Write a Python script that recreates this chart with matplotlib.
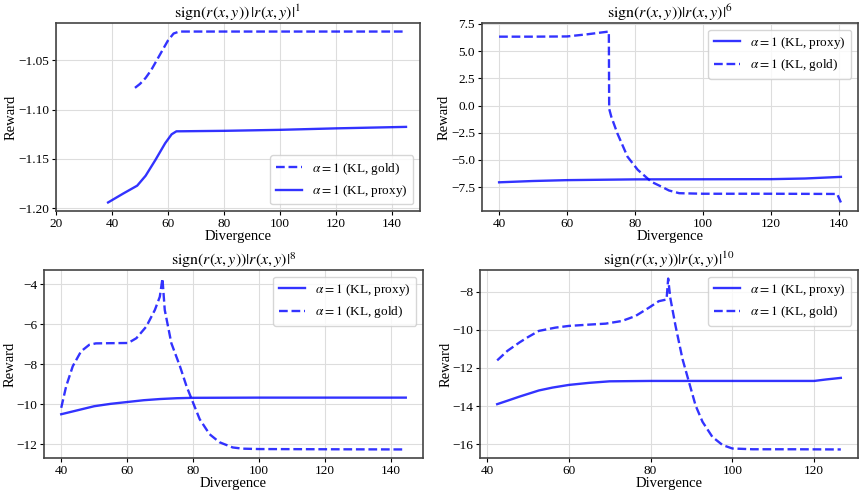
import numpy as np
import matplotlib
matplotlib.use('Agg')
import matplotlib.pyplot as plt
import matplotlib.ticker as ticker

plt.rcParams['font.family'] = ['Liberation Serif', 'DejaVu Serif']
plt.rcParams['mathtext.fontset'] = 'stix'

# --- data ---
# panel 1: |r|^1
p1_gold_x = [48.2, 50, 52, 54, 56, 58, 60, 62, 64, 80, 100, 120, 145]
p1_gold_y = [-1.078, -1.074, -1.068, -1.060, -1.050, -1.040, -1.030, -1.023, -1.021,
             -1.021, -1.021, -1.021, -1.021]
p1_proxy_x = [38.6, 44, 49, 52, 55.5, 59, 61.3, 63, 80, 100, 120, 145]
p1_proxy_y = [-1.194, -1.185, -1.177, -1.167, -1.151, -1.134, -1.125, -1.122,
              -1.1215, -1.1205, -1.119, -1.1175]

# panel 2: |r|^6
p2_gold_x = [40, 50, 60, 66, 72.3, 72.4, 73, 74.8, 77.8, 80.8, 84.8, 87.8, 90, 93,
             100, 120, 139.5, 140.6]
p2_gold_y = [6.33, 6.33, 6.35, 6.55, 6.8, -0.3, -1.0, -2.55, -4.7, -5.9, -7.0, -7.45,
             -7.8, -8.05, -8.1, -8.1, -8.12, -8.9]
p2_proxy_x = [40, 50, 60, 80, 100, 120, 130, 140.6]
p2_proxy_y = [-7.05, -6.93, -6.85, -6.78, -6.77, -6.76, -6.7, -6.55]

# panel 3: |r|^8
p3_gold_x = [40, 41.5, 43.5, 46, 48.5, 50.5, 55, 60.3, 62.8, 65.8, 68.4, 69.9, 70.7,
             71.4, 73.4, 76, 78, 80, 82, 85, 88, 92, 95, 100, 120, 144.5]
p3_gold_y = [-10.18, -9.1, -8.1, -7.36, -7.03, -6.96, -6.95, -6.94, -6.7, -6.12, -5.29,
             -4.63, -3.72, -5.29, -6.95, -8.1, -9.1, -9.93, -10.75, -11.5, -11.9,
             -12.16, -12.22, -12.24, -12.25, -12.26]
p3_proxy_x = [40, 45, 50, 55, 60, 65, 70, 75, 80, 100, 120, 144.5]
p3_proxy_y = [-10.5, -10.3, -10.1, -9.98, -9.89, -9.8, -9.74, -9.7, -9.68, -9.67,
              -9.67, -9.67]

# panel 4: |r|^10
p4_gold_x = [42.5, 45, 48, 50, 52.7, 56.7, 60, 65, 69, 73, 76.3, 79.6, 82, 83.9,
             84.3, 84.8, 86.1, 87.8, 89.4, 91, 92.7, 95.1, 97.6, 100, 105, 115, 126.5]
p4_gold_y = [-11.6, -11.1, -10.65, -10.38, -10.05, -9.88, -9.79, -9.72, -9.67, -9.53,
             -9.27, -8.83, -8.49, -8.4, -7.3, -8.3, -9.79, -11.53, -12.75, -13.97,
             -14.83, -15.62, -16.05, -16.23, -16.27, -16.27, -16.28]
p4_proxy_x = [42.5, 45, 48, 52.7, 56, 60, 65, 70, 80, 100, 120, 123, 126.5]
p4_proxy_y = [-13.9, -13.72, -13.5, -13.18, -13.03, -12.89, -12.78, -12.7, -12.68,
              -12.68, -12.68, -12.6, -12.52]

titles = [r'$\mathrm{sign}(r(x,y))\,|r(x,y)|^{1}$',
          r'$\mathrm{sign}(r(x,y))|r(x,y)|^{6}$',
          r'$\mathrm{sign}(r(x,y))|r(x,y)|^{8}$',
          r'$\mathrm{sign}(r(x,y))|r(x,y)|^{10}$']
ysteps = [0.05, 2.5, 2, 2]

W, H = 866, 496
fig = plt.figure(figsize=(W / 100, H / 100), dpi=100)

# axes boxes in pixels: left, right, top, bottom
boxes = [(56, 420, 23, 211), (482, 858, 23, 211),
         (44, 423, 270, 458), (480, 858, 270, 458)]
axes = []
for l, r, t, b in boxes:
    axes.append(fig.add_axes([l / W, 1 - b / H, (r - l) / W, (b - t) / H]))

color = 'blue'
lw = 1.7
al = 0.8
proxy_lbl = r'$\alpha=1$ (KL, proxy)'
gold_lbl = r'$\alpha=1$ (KL, gold)'

data = [(p1_gold_x, p1_gold_y, p1_proxy_x, p1_proxy_y),
        (p2_gold_x, p2_gold_y, p2_proxy_x, p2_proxy_y),
        (p3_gold_x, p3_gold_y, p3_proxy_x, p3_proxy_y),
        (p4_gold_x, p4_gold_y, p4_proxy_x, p4_proxy_y)]

for i, ax in enumerate(axes):
    gx, gy, px, py = data[i]
    if i == 0:
        ax.plot(gx, gy, '--', color=color, lw=lw, alpha=al, label=gold_lbl)
        ax.plot(px, py, '-', color=color, lw=lw, alpha=al, label=proxy_lbl)
        ax.set_xlim(20, 150)
        ax.legend(loc='lower right', fontsize=9.5)
    else:
        ax.plot(px, py, '-', color=color, lw=lw, alpha=al, label=proxy_lbl)
        ax.plot(gx, gy, '--', color=color, lw=lw, alpha=al, label=gold_lbl)
        ax.legend(loc='upper right', fontsize=9.5)
    ax.yaxis.set_major_locator(ticker.MultipleLocator(ysteps[i]))
    ax.xaxis.set_major_locator(ticker.MultipleLocator(20))
    ax.set_title(titles[i], fontsize=11.5, pad=1)
    ax.set_xlabel('Divergence', fontsize=10.5, labelpad=0)
    ax.set_ylabel('Reward', fontsize=10.5, labelpad=0)
    ax.tick_params(labelsize=9.5, length=3, pad=2)
    ax.grid(True, color='#dddddd', lw=0.8)
    for s in ax.spines.values():
        s.set_color('#444444')
        s.set_linewidth(1.2)

plt.savefig('out.png', dpi=100)
